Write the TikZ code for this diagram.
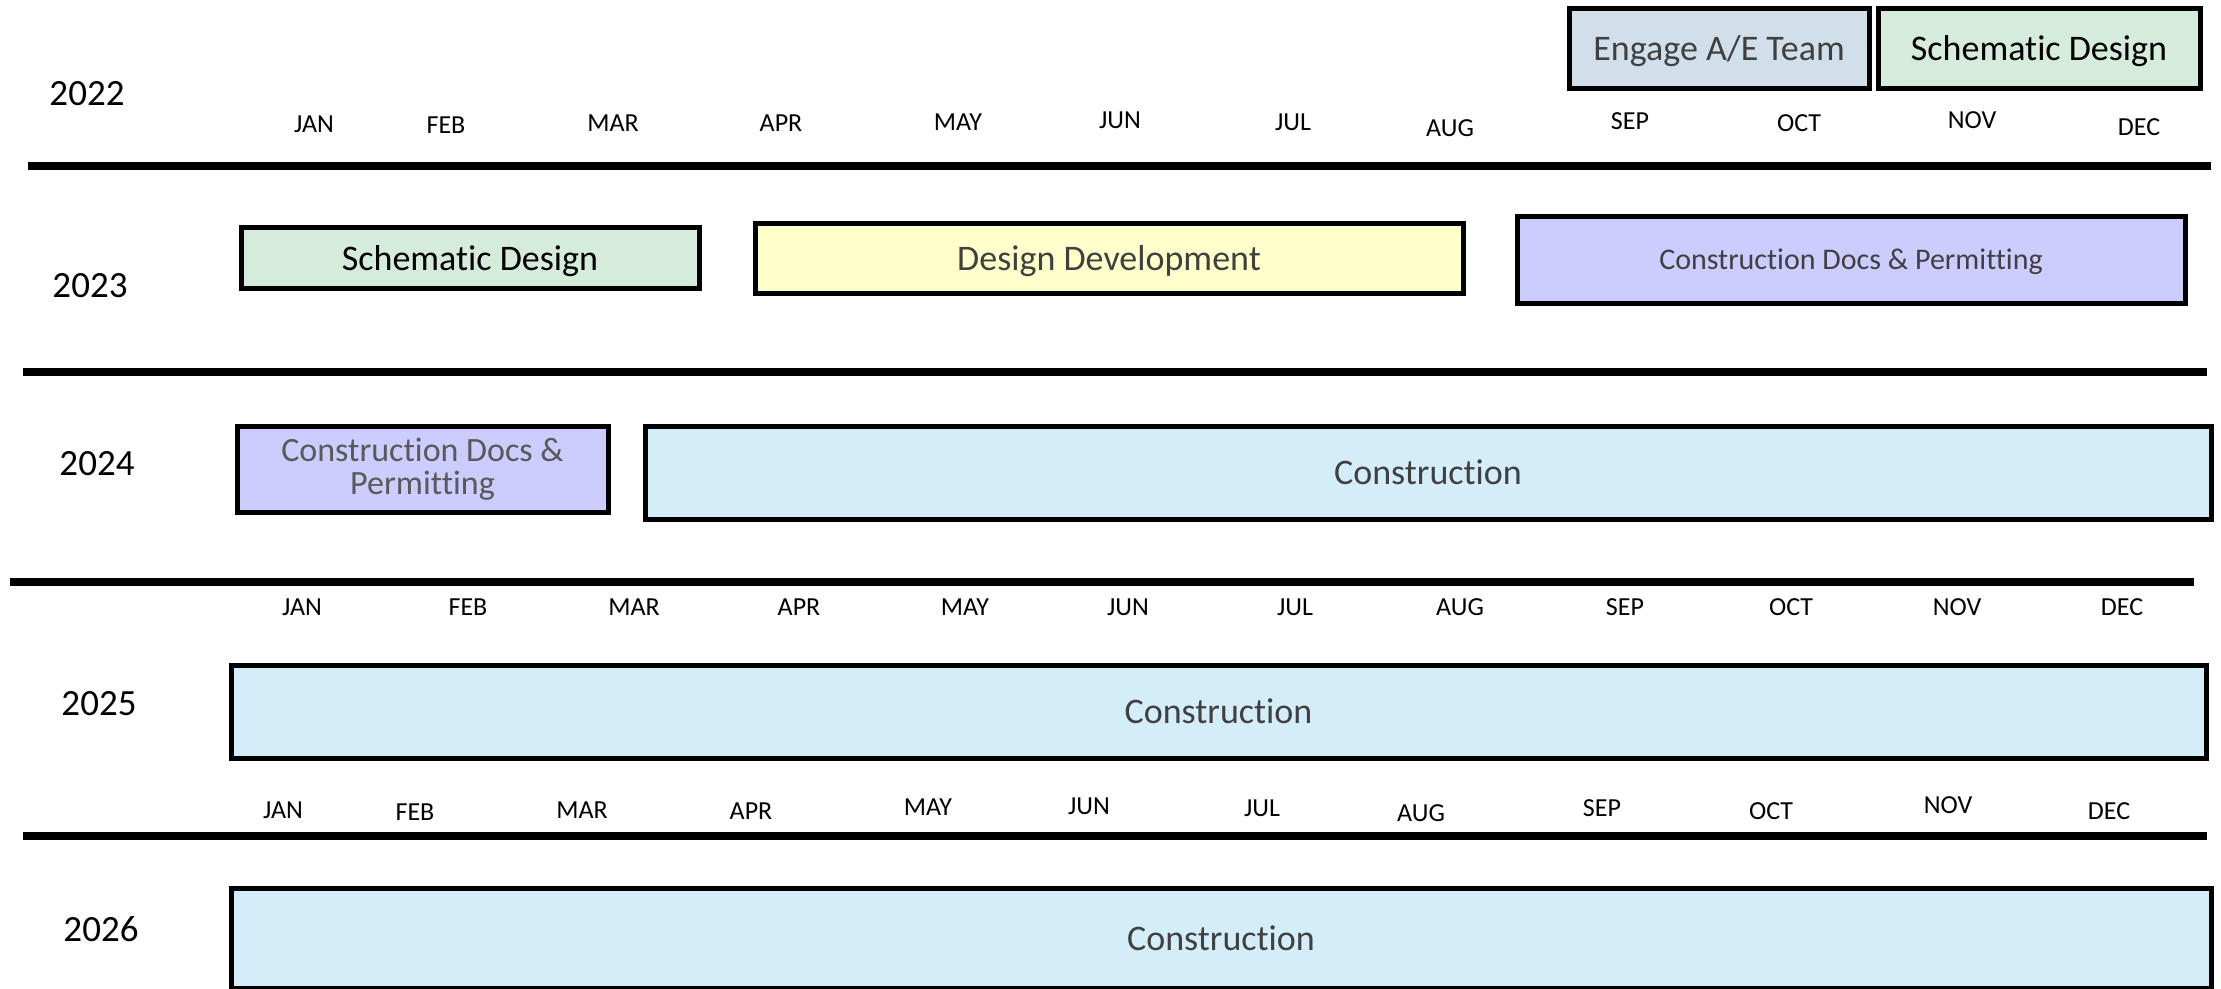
\documentclass[tikz,border=0pt]{standalone}
\usepackage{fontspec}
\setmainfont[Ligatures=NoCommon]{Carlito}
\definecolor{engagec}{HTML}{D0DFE9}
\definecolor{schemc}{HTML}{D5EBDC}
\definecolor{ddc}{HTML}{FFFFCC}
\definecolor{cdc}{HTML}{CCCCFF}
\definecolor{conc}{HTML}{D4EEF9}
\definecolor{txtgray}{HTML}{404040}
\definecolor{txtlight}{HTML}{595959}
\tikzset{
  box/.style={draw=black, line width=5pt, rectangle, inner sep=0pt, align=center,
    text=txtgray, font=\fontsize{36}{36}\selectfont},
  onel/.style={text depth=0pt},
  mon/.style={font=\fontsize{26}{26}\selectfont, inner sep=0pt, anchor=center},
  yr/.style={font=\fontsize{37}{37}\selectfont, inner sep=0pt},
  sepline/.style={line width=8.5pt}
}
\begin{document}
\begin{tikzpicture}[x=1pt,y=-1pt]
\useasboundingbox (0,0) rectangle (2221,988);
\clip (0,0) rectangle (2221,988);
% separators
\draw[sepline] (28,166) -- (2211,166);
\draw[sepline] (23,372) -- (2207,372);
\draw[sepline] (10,582) -- (2194,582);
\draw[sepline] (23,836) -- (2207,836);
% years
\node[yr] (y22) at (87,94) {2022};
\node[yr] (y23) at (90,286) {2023};
\node[yr] (y24) at (97,464) {2024};
\node[yr] (y25) at (99,704) {2025};
\node[yr] (y26) at (101,929) {2026};
% months row 1
\foreach \m/\x/\y [count=\i] in {JAN/314/124, FEB/446/125, MAR/613/123, APR/781/123, MAY/958/122, JUN/1120/120, JUL/1293/122, AUG/1450/128, SEP/1630/121, OCT/1799/123, NOV/1972/120, DEC/2139/127}
  \node[mon] (ma\i) at (\x,\y) {\m};
% months row 2
\foreach \m/\x [count=\i] in {JAN/302, FEB/468, MAR/634, APR/799, MAY/965, JUN/1128, JUL/1295, AUG/1460, SEP/1625, OCT/1791, NOV/1957, DEC/2122}
  \node[mon] (mb\i) at (\x,607) {\m};
% months row 3
\foreach \m/\x/\y [count=\i] in {JAN/283/810, FEB/415/812, MAR/582/810, APR/751/811, MAY/928/807, JUN/1089/806, JUL/1262/808, AUG/1421/813, SEP/1602/808, OCT/1771/811, NOV/1948/805, DEC/2109/811}
  \node[mon] (mc\i) at (\x,\y) {\m};
% boxes
\node[box, onel, fill=engagec, minimum width=300pt, minimum height=80pt] (engage) at (1719,48) {Engage A/E Team};
\node[box, onel, fill=schemc, text=black, minimum width=322pt, minimum height=80pt] (sd22) at (2039,48) {Schematic Design};
\node[box, onel, fill=schemc, text=black, minimum width=458pt, minimum height=61pt] (sd23) at (470,257.5) {Schematic Design};
\node[box, onel, fill=ddc, minimum width=708pt, minimum height=70pt] (dd23) at (1109,258) {Design Development};
\node[box, onel, fill=cdc, font=\fontsize{30}{30}\selectfont, minimum width=668pt, minimum height=87pt] (cd23) at (1851,259.5) {Construction Docs \& Permitting};
\node[box, fill=cdc, text=txtlight, font=\fontsize{34}{33}\selectfont, minimum width=371pt, minimum height=86pt] (cd24) at (422.5,469) {Construction Docs \&\\Permitting};
\node[box, fill=conc, minimum width=1566pt, minimum height=93pt] (con24) at (1428,472.5) {Construction};
\node[box, fill=conc, minimum width=1975pt, minimum height=93pt] (con25) at (1218.5,711.5) {Construction};
\node[box, fill=conc, minimum width=1980pt, minimum height=100pt] (con26) at (1221,938) {Construction};
\end{tikzpicture}
\end{document}
